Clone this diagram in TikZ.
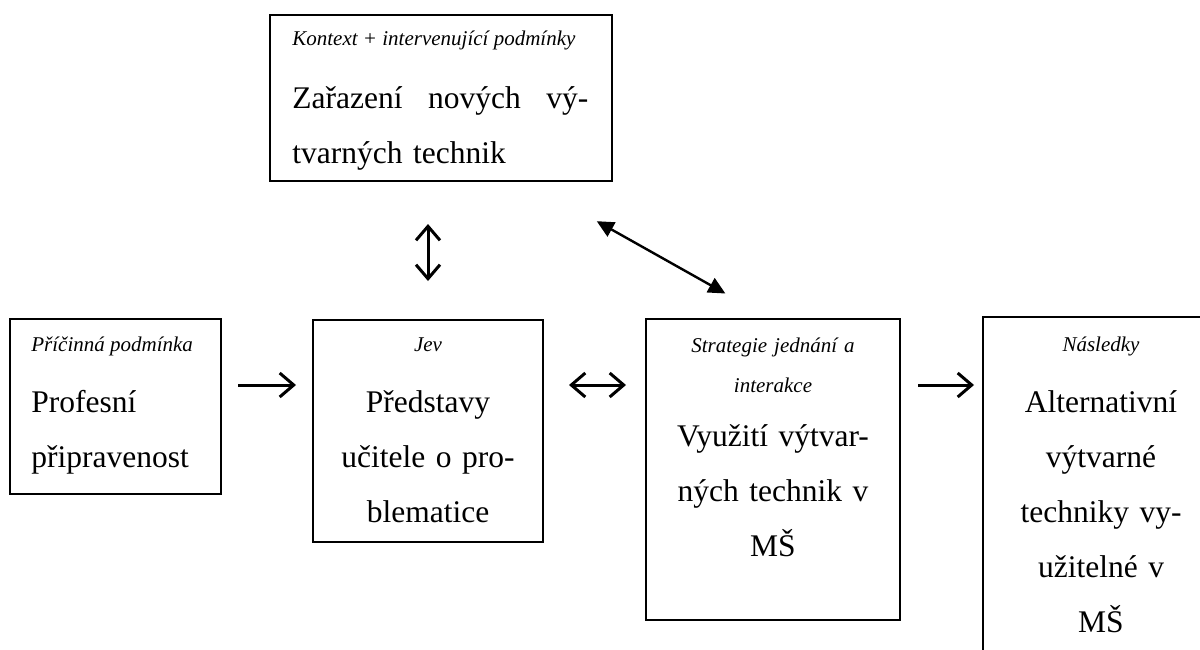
\documentclass[tikz,border=0pt]{standalone}
\usepackage{fontspec}
\setmainfont{Liberation Serif}
\usetikzlibrary{arrows.meta}
\tikzset {
  box/.style={draw, line width=1pt, inner sep=0pt},
  lab/.style={inner sep=0pt, font=\fontsize{10.5}{20}\selectfont\itshape},
  txt/.style={inner sep=0pt, font=\fontsize{15.75}{27.5}\selectfont},
  barb/.tip={Straight Barb[length=7pt,width=12pt]},
  flow/.style={line width=1.5pt, -barb},
  both/.style={line width=1.5pt, barb-barb},
  link/.style={line width=1.2pt, {Triangle[length=8.5pt,width=8pt]}-{Triangle[length=8.5pt,width=8pt]}}
}

\begin{document}
\begin{tikzpicture}[x=0.5pt,y=-0.5pt]
\useasboundingbox (0,0) rectangle (1200,649);
\clip (0,0) rectangle (1200,649);

% boxes
\node[box, minimum width=171pt, minimum height=83pt] (kontext) at (441,98) {};
\node[box, minimum width=105.5pt, minimum height=87.5pt] (pricina) at (115.5,406.5) {};
\node[box, minimum width=115pt, minimum height=111pt] (jev) at (428,431) {};
\node[box, minimum width=127pt, minimum height=150.5pt] (strategie) at (773,469.5) {};
\node[box, minimum width=118.5pt, minimum height=191.5pt] (nasledky) at (1101.5,508.5) {};

\node[lab, anchor=base west] at (292,45) {Kontext + intervenující podmínky};
\node[txt, anchor=base west, text width=148pt, align=left] at (292,108) {Zařazení\hfill nových\hfill vý-\\tvarných technik};

\node[lab, anchor=base west] at (31,351) {Příčinná podmínka};
\node[txt, anchor=base west, text width=90pt, align=left] at (31,412) {Profesní\\připravenost};

\node[lab, anchor=base] at (428,351) {Jev};
\node[txt, anchor=base, text width=110pt, align=center] at (428,412) {Představy\\učitele o pro-\\blematice};

\node[lab, anchor=base, text width=125pt, align=center] at (773,352) {Strategie jednání a\\interakce};
\node[txt, anchor=base, text width=125pt, align=center] at (773,446) {Využití výtvar-\\ných technik v\\MŠ};

\node[lab, anchor=base] at (1101,351) {Následky};
\node[txt, anchor=base, text width=115pt, align=center] at (1101,412) {Alternativní\\výtvarné\\techniky vy-\\užitelné v\\MŠ};

% arrows
\coordinate (row) at (0,385);
\draw[flow, shorten <=8pt, shorten >=8pt] (pricina.east |- row) -- (jev.west |- row);
\draw[both, shorten <=12.5pt, shorten >=9.5pt] (jev.east |- row) -- (strategie.west |- row);
\draw[flow, shorten <=8.5pt, shorten >=4pt] (strategie.east |- row) -- (nasledky.west |- row);
\draw[both, shorten <=19pt, shorten >=21pt] (jev.north) -- (jev.north |- kontext.south);
\draw[link, shorten <=25pt, shorten >=40pt] ([xshift=-2pt]strategie.north) -- ([xshift=43pt]kontext.south);
\end{tikzpicture}
\end{document}
